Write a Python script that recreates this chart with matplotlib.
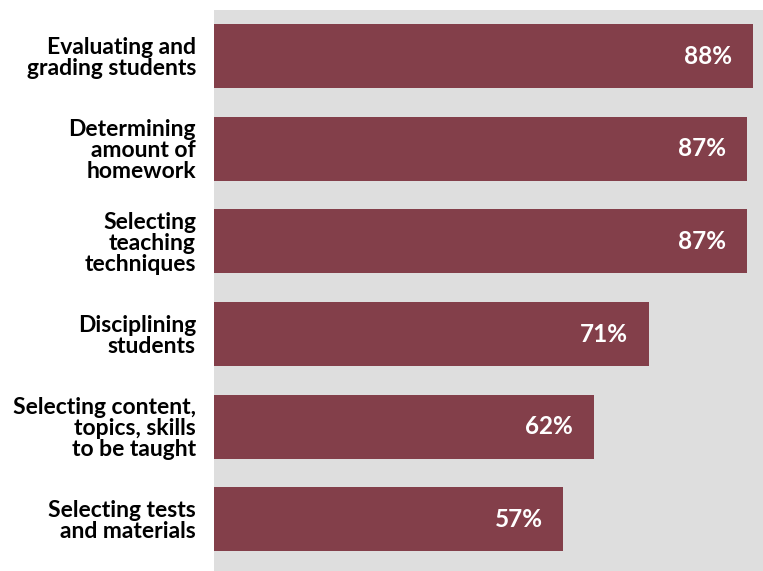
import matplotlib
matplotlib.use("Agg")
import matplotlib.pyplot as plt

categories = [
    "Evaluating and\ngrading students",
    "Determining\namount of\nhomework",
    "Selecting\nteaching\ntechniques",
    "Disciplining\nstudents",
    "Selecting content,\ntopics, skills\nto be taught",
    "Selecting tests\nand materials",
]
values = [88, 87, 87, 71, 62, 57]
value_labels = ["88%", "87%", "87%", "71%", "62%", "57%"]

bar_color = "#833f4a"
bg_color = "#dedede"

plt.rcParams["font.family"] = ["Lato", "DejaVu Sans"]

fig = plt.figure(figsize=(7.63, 5.71), dpi=100)
ax = fig.add_axes([214 / 763, 0, 1 - 214 / 763, 561 / 571])
ax.set_facecolor(bg_color)

y = list(range(len(values)))
ax.barh(y, values, height=0.69, color=bar_color)

for yi, v, lab in zip(y, values, value_labels):
    ax.annotate(lab, (v, yi), xytext=(-15, 0), textcoords="offset points",
                ha="right", va="center", color="white",
                fontsize=17.5, fontweight="bold")

ax.set_xlim(0, 89.6)
ax.set_ylim(5.56, -0.5)
ax.set_xticks([])
ax.set_yticks(y)
ax.set_yticklabels(categories, fontsize=16.5, fontweight="bold",
                   linespacing=1.0, ha="right")
ax.tick_params(axis="y", length=0, pad=13)
for s in ax.spines.values():
    s.set_visible(False)

fig.savefig("out.png", dpi=100)
